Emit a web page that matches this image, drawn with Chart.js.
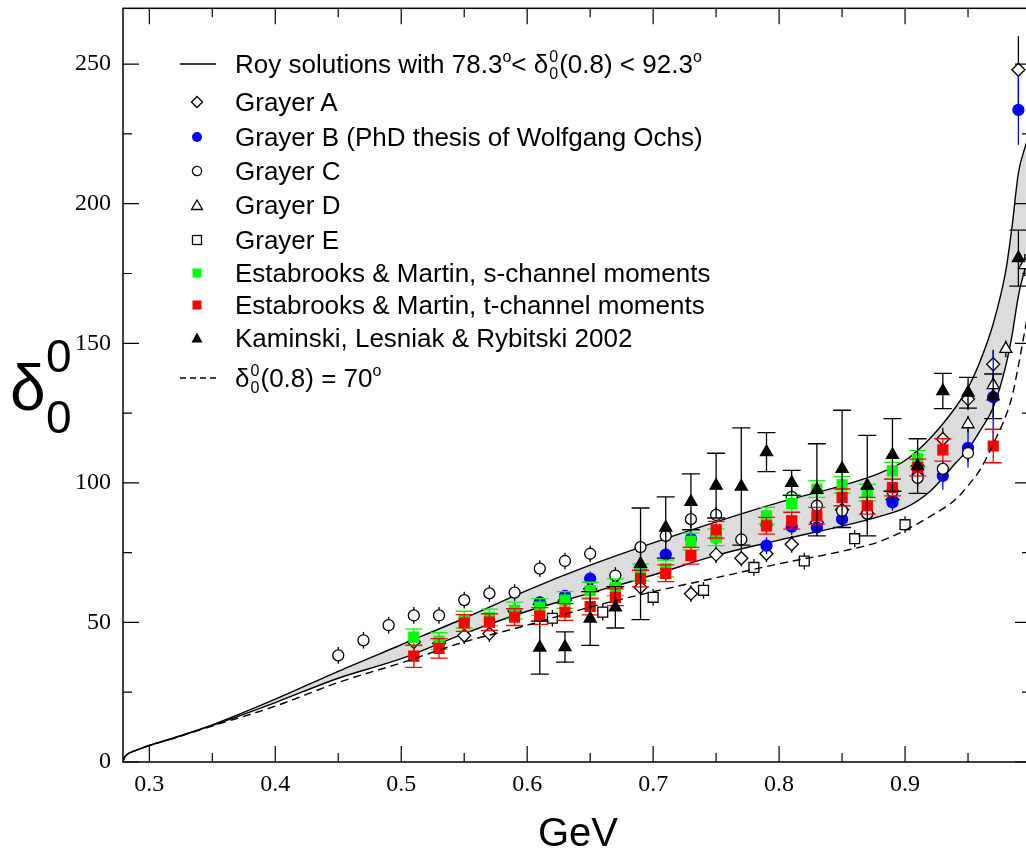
<!DOCTYPE html>
<html>
<head>
<meta charset="utf-8">
<script src="https://cdn.jsdelivr.net/npm/chart.js@4.4.1/dist/chart.umd.min.js"></script>
<style>
  html, body { margin: 0; padding: 0; background: #fff; overflow: hidden; }
  #wrap { position: relative; width: 1026px; height: 853px; overflow: hidden; }
  #runtimeBox { position: absolute; left: 0; top: 0; width: 1040px; height: 853px; }
  .txt { position: absolute; font-family: "Liberation Sans", Arial, sans-serif; color: #000; white-space: nowrap; line-height: 1; }
  .row { left: 235px; font-size: 26px; }
  .st { display: inline-block; position: relative; width: 11px; height: 0; }
  .st .su, .st .sb { position: absolute; left: 1px; font-size: 16px; line-height: 1; }
  .st .su { top: -24px; }
  .st .sb { top: -7px; }
  .dg { position: relative; top: -11px; font-size: 16px; }
  .mk { position: absolute; }
</style>
</head>
<body>
<div id="wrap">
  <div id="runtimeBox"><canvas id="plot" width="1040" height="853"></canvas></div>

  <!-- legend -->
  <svg class="mk" style="left:179px;top:58px" width="40" height="12"><line x1="1" y1="6" x2="37" y2="6" stroke="#000" stroke-width="1.3"/></svg>
  <div class="txt row" style="top:51px">Roy solutions with 78.3<span class="dg">o</span>&lt; δ<span class="st"><span class="su">0</span><span class="sb">0</span></span>(0.8) &lt; 92.3<span class="dg">o</span></div>

  <svg class="mk" style="left:190px;top:95px" width="14" height="14"><polygon points="7,1.5 12.5,7 7,12.5 1.5,7" fill="#fff" stroke="#000" stroke-width="1.3"/></svg>
  <div class="txt row" style="top:89px">Grayer A</div>

  <svg class="mk" style="left:190px;top:130px" width="14" height="14"><circle cx="7" cy="7" r="5" fill="#0000ff"/></svg>
  <div class="txt row" style="top:124px">Grayer B (PhD thesis of Wolfgang Ochs)</div>

  <svg class="mk" style="left:190px;top:164px" width="14" height="14"><circle cx="7" cy="7" r="4.6" fill="#fff" stroke="#000" stroke-width="1.3"/></svg>
  <div class="txt row" style="top:158px">Grayer C</div>

  <svg class="mk" style="left:190px;top:198px" width="14" height="14"><polygon points="7,2 12.5,11.5 1.5,11.5" fill="#fff" stroke="#000" stroke-width="1.3"/></svg>
  <div class="txt row" style="top:192px">Grayer D</div>

  <svg class="mk" style="left:190px;top:233px" width="14" height="14"><rect x="2.5" y="2.5" width="9" height="9" fill="#fff" stroke="#000" stroke-width="1.3"/></svg>
  <div class="txt row" style="top:227px">Grayer E</div>

  <svg class="mk" style="left:190px;top:266px" width="14" height="14"><rect x="2.5" y="2.5" width="9" height="9" fill="#00ff00"/></svg>
  <div class="txt row" style="top:260px">Estabrooks &amp; Martin, s-channel moments</div>

  <svg class="mk" style="left:190px;top:298px" width="14" height="14"><rect x="2.5" y="2.5" width="9" height="9" fill="#ff0000"/></svg>
  <div class="txt row" style="top:292px">Estabrooks &amp; Martin, t-channel moments</div>

  <svg class="mk" style="left:190px;top:331px" width="14" height="14"><polygon points="7,1.5 12.5,11.5 1.5,11.5" fill="#000"/></svg>
  <div class="txt row" style="top:325px">Kaminski, Lesniak &amp; Rybitski 2002</div>

  <svg class="mk" style="left:179px;top:372px" width="40" height="12"><line x1="1" y1="6" x2="37" y2="6" stroke="#000" stroke-width="1.3" stroke-dasharray="6,4"/></svg>
  <div class="txt row" style="top:365px">δ<span class="st"><span class="su">0</span><span class="sb">0</span></span>(0.8) = 70<span class="dg">o</span></div>

  <!-- axis titles -->
  <div class="txt" style="left:10px;top:356px;font-size:64px">δ</div>
  <div class="txt" style="left:46px;top:333px;font-size:46px">0</div>
  <div class="txt" style="left:46px;top:394px;font-size:46px">0</div>
  <div class="txt" style="left:538px;top:812px;font-size:40px">GeV</div>
</div>

<script>
// ===============================
// DATA
// ===============================
// Roy solution band (upper / lower edge) and the 70 degree curve
const curveX  = [0.2791, 0.2805, 0.283, 0.287, 0.293, 0.30, 0.32, 0.35, 0.40, 0.45, 0.50, 0.55, 0.60, 0.65, 0.70, 0.75, 0.80, 0.85, 0.88, 0.90, 0.92, 0.94, 0.95, 0.96, 0.97, 0.98, 0.985, 0.99, 0.9965];
const royUpper = [0.3, 1.8, 2.9, 3.8, 4.8, 5.9, 8.7, 13.3, 22.5, 32.5, 42, 51.5, 61.5, 70.5, 78.5, 86, 93, 99, 103.5, 108, 116, 127, 134, 144, 157, 176, 192, 211, 222];
const royLower = [0.3, 1.8, 2.9, 3.8, 4.8, 5.9, 8.7, 13.1, 21.3, 30, 37, 46, 54, 60.5, 67, 74, 79.5, 84.5, 88, 91, 97, 107, 112, 119, 127, 142, 153, 167, 179];
const delta70  = [0.3, 1.8, 2.9, 3.8, 4.8, 5.9, 8.6, 12.9, 20, 28.5, 35.5, 43, 49, 55.5, 61, 66, 71, 75.5, 79, 83, 88, 94, 99, 105, 114, 124, 131, 142, 158];

// Grayer A (open diamonds)
const grayerAX = [0.51, 0.53, 0.55, 0.57, 0.59, 0.61, 0.63, 0.65, 0.67, 0.69, 0.73, 0.75, 0.77, 0.79, 0.81, 0.83, 0.85, 0.87, 0.89, 0.91, 0.93, 0.95, 0.97, 0.99];
const grayerAY = [43, 42.5, 45.3, 46, 54, 56.5, 58, 62, 62.6, 62.6, 60.3, 74.3, 73, 74.6, 78, 85.8, 90.4, 89, 94, 106, 115.7, 130, 142.5, 248];
const grayerAErr = [3, 3, 3, 3, 3, 3, 3, 3, 3, 3, 3, 3, 3, 3, 3, 3, 3, 3, 3, 3, 4, 4, 5, 12];

// Grayer B (blue dots)
const grayerBX = [0.61, 0.63, 0.65, 0.67, 0.69, 0.71, 0.73, 0.75, 0.79, 0.81, 0.83, 0.85, 0.87, 0.89, 0.91, 0.93, 0.95, 0.97, 0.99];
const grayerBY = [57.2, 59.5, 65.7, 62.8, 69.2, 74.3, 80, 80.4, 77.5, 84.3, 84, 87, 89, 93, 103, 102.5, 112.5, 130.7, 233.6];
const grayerBErr = [2, 2, 2.5, 2, 2.5, 2.5, 3, 3, 3, 3, 3, 3, 3, 3, 4, 5, 7, 17, 12.5];

// Grayer C (open circles)
const grayerCX = [0.45, 0.47, 0.49, 0.51, 0.53, 0.55, 0.57, 0.59, 0.61, 0.63, 0.65, 0.67, 0.69, 0.71, 0.73, 0.75, 0.77, 0.79, 0.81, 0.83, 0.85, 0.87, 0.89, 0.91, 0.93, 0.95];
const grayerCY = [38.2, 43.6, 49, 52.5, 52.5, 58, 60.4, 60.7, 69.3, 72, 74.6, 66.8, 77, 81, 87, 88.5, 79.7, 85, 95, 91.8, 90, 89, 97, 101.8, 105, 110.7];
const grayerCErr = [3, 3, 3, 3, 3, 3, 3, 3, 3, 3, 3, 3, 3, 3, 3, 3, 3, 3, 3, 3, 3, 3, 3, 3, 3, 3];

// Grayer D (open triangles)
const grayerDX = [0.95, 0.97, 0.98, 0.995];
const grayerDY = [121, 135, 148, 178];
const grayerDErr = [3, 3, 3, 4];

// Grayer E (open squares)
const grayerEX = [0.62, 0.66, 0.70, 0.74, 0.78, 0.82, 0.86, 0.90];
const grayerEY = [51.5, 53.7, 59, 61.5, 69.7, 72, 80, 85];
const grayerEErr = [3, 3, 3, 3, 3, 3, 3, 3];

// Estabrooks & Martin, s-channel (green)
const emSX = [0.51, 0.53, 0.55, 0.57, 0.59, 0.61, 0.63, 0.65, 0.67, 0.69, 0.71, 0.73, 0.75, 0.79, 0.81, 0.83, 0.85, 0.87, 0.89, 0.91];
const emSY = [44.7, 43.3, 51, 51.8, 54.3, 55.5, 58, 61.4, 62.6, 68, 69.3, 79, 80.5, 88.2, 92.6, 97.8, 99.3, 96.5, 104.3, 108.6];
const emSErr = [3, 3, 3, 3, 3, 3, 3, 3, 3, 3, 3, 3, 3, 3, 3, 3, 3, 3, 3, 3];

// Estabrooks & Martin, t-channel (red)
const emTX = [0.51, 0.53, 0.55, 0.57, 0.59, 0.61, 0.63, 0.65, 0.67, 0.69, 0.71, 0.73, 0.75, 0.79, 0.81, 0.83, 0.85, 0.87, 0.89, 0.91, 0.93, 0.97];
const emTY = [37.9, 40.7, 49.8, 50.1, 51.9, 52.3, 53.7, 55.7, 59, 65.7, 67.6, 73.9, 83.2, 84.6, 86.4, 88.2, 94.8, 91.8, 98.3, 105.5, 111.8, 113.2];
const emTErr = [4, 3.5, 3, 3, 3, 3, 3, 3, 3, 3, 3, 3, 3, 3, 3, 3, 3, 3, 3, 3, 4, 6];

// Kaminski, Lesniak & Rybitski 2002 (black triangles)
const kamX = [0.61, 0.63, 0.65, 0.67, 0.69, 0.71, 0.73, 0.75, 0.77, 0.79, 0.81, 0.83, 0.85, 0.87, 0.89, 0.91, 0.93, 0.95, 0.97, 0.99];
const kamY = [41, 41.2, 51.4, 55.4, 71, 84, 93.2, 99, 98.7, 111, 100, 97.5, 105, 99, 110, 106, 132.9, 132.3, 131, 180.5];
const kamErr = [9.5, 5.4, 9.6, 7.4, 20, 11, 10, 11.6, 21, 7, 4.5, 16.5, 21, 18, 13, 9.8, 6.3, 5.5, 8, 10];

// Axis ticks
const xTickValues = [0.3, 0.4, 0.5, 0.6, 0.7, 0.8, 0.9];
const xMinorValues = [0.35, 0.45, 0.55, 0.65, 0.75, 0.85, 0.95];
const yTickValues = [0, 50, 100, 150, 200, 250];
const yMinorValues = [25, 75, 125, 175, 225];

// ===============================
// HELPERS
// ===============================
const pts = (xs, ys) => xs.map((x, i) => ({ x: x, y: ys[i] }));

function pointSet(xs, ys, errs, style, order) {
  return Object.assign({
    data: pts(xs, ys),
    errors: errs,
    showLine: false,
    borderWidth: 1.3,
    order: order
  }, style);
}

// ===============================
// PLUGIN: ERROR BARS + FRAME
// ===============================
const errorBars = {
  id: "errorBars",
  beforeDatasetDraw(chart, args) {
    const ds = chart.data.datasets[args.index];
    if (!ds.errors) return;
    const xs = chart.scales.x, ys = chart.scales.y, c = chart.ctx;
    c.save();
    c.strokeStyle = ds.errColor;
    c.lineWidth = 1.3;
    ds.data.forEach((p, i) => {
      const px = xs.getPixelForValue(p.x);
      const yTop = ys.getPixelForValue(p.y + ds.errors[i]);
      const yBot = ys.getPixelForValue(p.y - ds.errors[i]);
      c.beginPath();
      c.moveTo(px, yTop);
      c.lineTo(px, yBot);
      if (ds.cap) {
        c.moveTo(px - ds.cap, yTop); c.lineTo(px + ds.cap, yTop);
        c.moveTo(px - ds.cap, yBot); c.lineTo(px + ds.cap, yBot);
      }
      c.stroke();
    });
    c.restore();
  }
};

const frameTicks = {
  id: "frameTicks",
  afterDraw(chart) {
    const a = chart.chartArea, xs = chart.scales.x, ys = chart.scales.y, c = chart.ctx;
    c.save();
    c.strokeStyle = "#000";
    c.lineWidth = 1.5;
    c.strokeRect(a.left, a.top, a.right - a.left, a.bottom - a.top);
    c.lineWidth = 1.2;
    c.beginPath();
    const xt = (v, len) => {
      const px = xs.getPixelForValue(v);
      c.moveTo(px, a.bottom); c.lineTo(px, a.bottom - len);
      c.moveTo(px, a.top); c.lineTo(px, a.top + len);
    };
    const yt = (v, len) => {
      const py = ys.getPixelForValue(v);
      c.moveTo(a.left, py); c.lineTo(a.left + len, py);
      c.moveTo(a.right, py); c.lineTo(a.right - len, py);
    };
    xTickValues.concat([1.0]).forEach(v => xt(v, 16));
    xMinorValues.forEach(v => xt(v, 9));
    yTickValues.forEach(v => yt(v, 16));
    yMinorValues.forEach(v => yt(v, 9));
    c.stroke();
    c.restore();
  }
};

// ===============================
// INIT CHART
// ===============================
const tickFont = { family: "'Liberation Serif', 'Times New Roman', serif", size: 24 };

const datasets = [
  // 0: upper Roy edge, filled down to dataset 1
  { data: pts(curveX, royUpper), showLine: true, pointRadius: 0, borderColor: "#000", borderWidth: 1.4,
    cubicInterpolationMode: "monotone", fill: 1, backgroundColor: "#dcdcdc", order: 20 },
  // 1: lower Roy edge
  { data: pts(curveX, royLower), showLine: true, pointRadius: 0, borderColor: "#000", borderWidth: 1.4,
    cubicInterpolationMode: "monotone", fill: false, order: 19 },
  pointSet(grayerAX, grayerAY, grayerAErr, { pointStyle: "rectRot", pointRadius: 6.5, backgroundColor: "#fff", borderColor: "#000", errColor: "#000", cap: 0 }, 9),
  pointSet(grayerBX, grayerBY, grayerBErr, { pointStyle: "circle", pointRadius: 5.5, backgroundColor: "#0000ff", borderColor: "#0000ff", errColor: "#0000ff", cap: 0 }, 8),
  pointSet(grayerCX, grayerCY, grayerCErr, { pointStyle: "circle", pointRadius: 5.5, backgroundColor: "#fff", borderColor: "#000", errColor: "#000", cap: 0 }, 7),
  pointSet(grayerDX, grayerDY, grayerDErr, { pointStyle: "triangle", pointRadius: 7, backgroundColor: "#fff", borderColor: "#000", errColor: "#000", cap: 0 }, 6),
  pointSet(grayerEX, grayerEY, grayerEErr, { pointStyle: "rect", pointRadius: 7, backgroundColor: "#fff", borderColor: "#000", errColor: "#000", cap: 0 }, 5),
  pointSet(emSX, emSY, emSErr, { pointStyle: "rect", pointRadius: 7, backgroundColor: "#00ff00", borderColor: "#00ff00", errColor: "#00ff00", cap: 8.5 }, 4),
  pointSet(emTX, emTY, emTErr, { pointStyle: "rect", pointRadius: 7, backgroundColor: "#ff0000", borderColor: "#ff0000", errColor: "#ff0000", cap: 8.5 }, 3),
  pointSet(kamX, kamY, kamErr, { pointStyle: "triangle", pointRadius: 7, backgroundColor: "#000", borderColor: "#000", errColor: "#000", cap: 9 }, 2),
  // dashed delta(0.8) = 70 deg curve
  { data: pts(curveX, delta70), showLine: true, pointRadius: 0, borderColor: "#000", borderWidth: 1.4,
    borderDash: [8, 5], cubicInterpolationMode: "monotone", fill: false, order: 1 }
];

const chart = new Chart(document.getElementById("plot"), {
  type: "scatter",
  data: { datasets: datasets },
  options: {
    responsive: false,
    animation: false,
    events: [],
    layout: { padding: { top: 6, right: 9, left: 0, bottom: 0 } },
    plugins: { legend: { display: false }, tooltip: { enabled: false } },
    scales: {
      x: {
        type: "linear",
        min: 0.2791,
        max: 1.0,
        grid: { display: false, drawTicks: false },
        border: { display: false },
        afterBuildTicks: s => { s.ticks = xTickValues.map(v => ({ value: v })); },
        afterFit: s => { s.height = 91; s.paddingLeft = 0; s.paddingRight = 0; },
        ticks: { padding: 8, color: "#000", font: tickFont, maxRotation: 0, autoSkip: false,
                 callback: v => v.toFixed(1) }
      },
      y: {
        type: "linear",
        min: 0,
        max: 270,
        grid: { display: false, drawTicks: false },
        border: { display: false },
        afterBuildTicks: s => { s.ticks = yTickValues.map(v => ({ value: v })); },
        afterFit: s => { s.width = 123; s.paddingTop = 0; s.paddingBottom = 0; },
        ticks: { padding: 12, color: "#000", font: tickFont, autoSkip: false }
      }
    }
  },
  plugins: [errorBars, frameTicks]
});
</script>
</body>
</html>
